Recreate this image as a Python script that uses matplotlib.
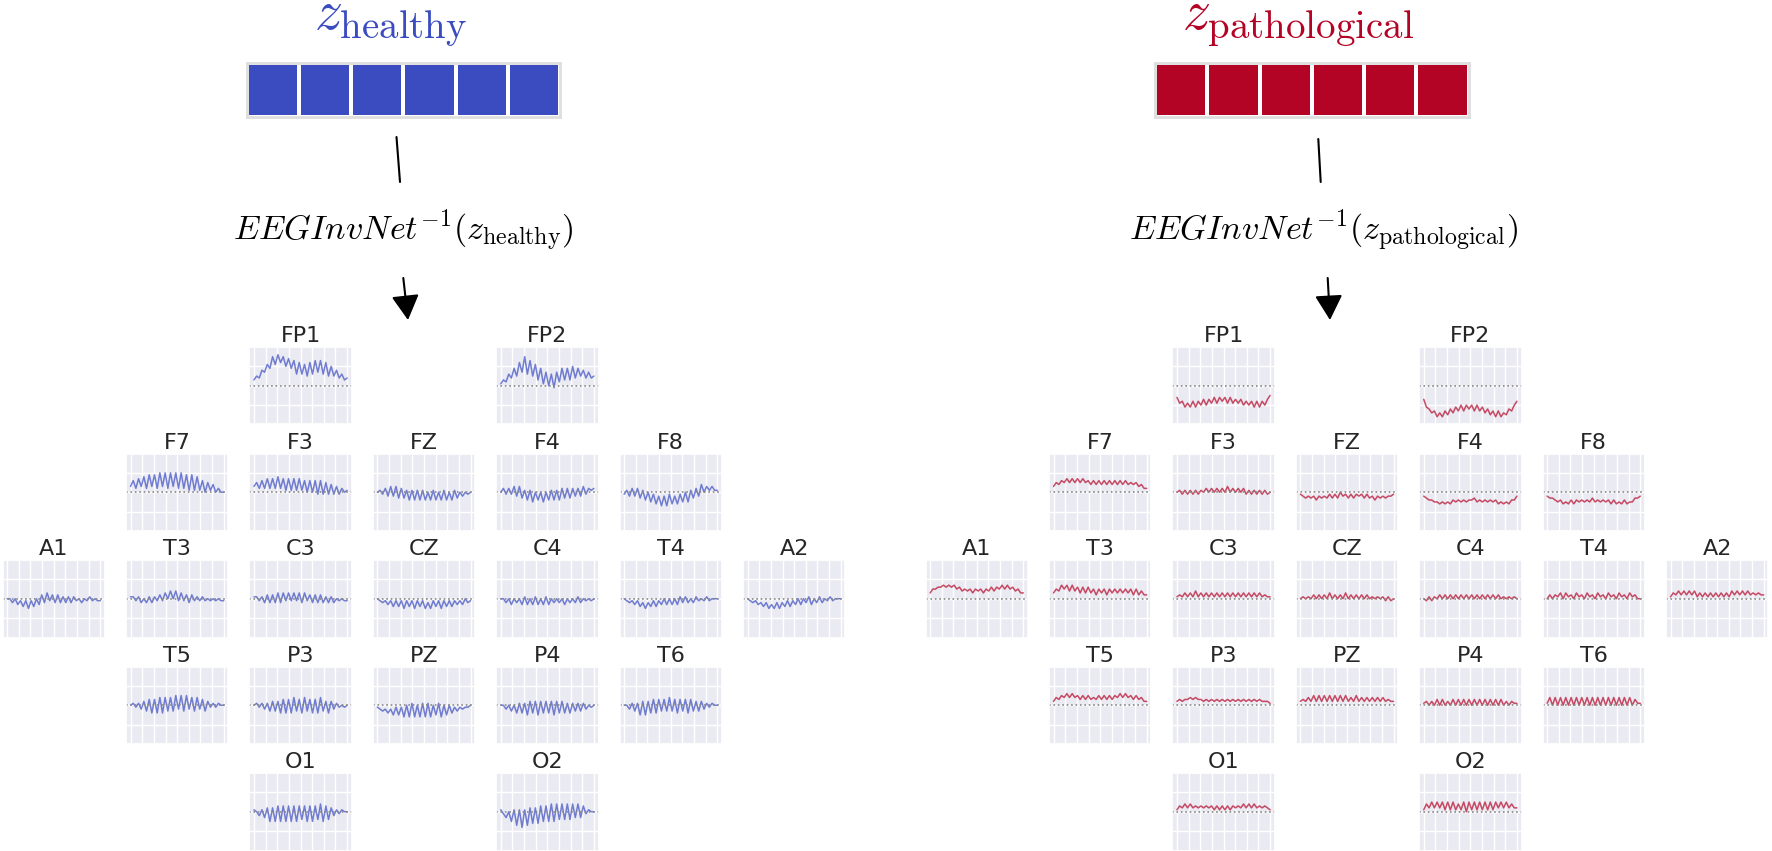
import numpy as np
import matplotlib
matplotlib.use("Agg")
import matplotlib.pyplot as plt
import seaborn as sns

sns.set_theme(style="darkgrid")
plt.rcParams['font.family'] = ['DejaVu Sans']
plt.rcParams['mathtext.fontset'] = 'cm'

# latent vectors (coolwarm values)
latent_healthy = [-1, -1, -1, -1, -1, -1]
latent_patho = [1, 1, 1, 1, 1, 1]

n_samples = 400

# healthy reconstructions, zigzag of extremes (units of 0.1)
fp1_h = [3, 5, 4, 8, 7, 11, 9, 15, 11, 16, 12, 15, 10, 14, 9, 13, 6, 12, 6, 11, 5, 12, 6, 13, 7, 13, 6, 12, 5, 10, 5, 8, 4, 6, 3, 4]
fp2_h = [1, 3, 2, 6, 4, 9, 5, 12, 7, 15, 6, 13, 5, 11, 3, 9, 1, 7, 0, 6, -1, 7, 2, 9, 3, 9, 3, 10, 4, 9, 5, 8, 4, 7, 4, 5]
f7_h = [3, 6, 2, 7, 3, 8, 2, 9, 3, 9, 2, 10, 3, 10, 2, 10, 3, 10, 2, 10, 2, 9, 1, 9, 1, 8, 1, 6, 0, 5, 1, 4, 0, 2, 0, 0]
f3_h = [3, 5, 2, 6, 2, 7, 2, 7, 2, 8, 2, 7, 1, 7, 1, 7, 1, 7, 1, 6, 0, 6, 0, 6, -1, 6, -1, 5, -1, 4, -1, 3, -1, 2, 0, 1]
fz_h = [0, 1, -1, 2, -2, 3, -2, 3, -3, 2, -3, 1, -4, 1, -4, 1, -4, 1, -4, 0, -4, 1, -4, 0, -4, 1, -4, 0, -4, 1, -3, 0, -2, 0, -1, 0]
f4_h = [0, 2, -1, 2, -1, 3, -2, 3, -3, 1, -4, 1, -5, 0, -4, 0, -5, 0, -4, 1, -4, 1, -4, 2, -3, 2, -3, 2, -2, 2, -2, 3, -1, 2, 1, 2]
f8_h = [-1, 1, -2, 2, -2, 2, -3, 1, -4, 0, -5, -1, -6, -2, -7, -2, -7, -1, -6, -2, -6, -1, -5, 0, -5, 1, -3, 2, -2, 4, 0, 3, 1, 3, 1, 1]
a1_h = [0, 0, -2, 0, -3, -1, -4, -1, -5, -1, -4, 0, -3, 2, -2, 3, -1, 2, -2, 2, -2, 1, -2, 1, -2, 1, -1, 0, -2, 0, -1, 1, -1, 0, -1, -1]
t3_h = [1, 1, -1, 1, -2, 0, -2, 1, -2, 1, -1, 2, -1, 3, 0, 4, 0, 4, -1, 3, -1, 2, -2, 2, -1, 1, -1, 1, -1, 0, -1, 0, -1, 0, -1, -1]
c3_h = [1, 1, -1, 1, -2, 2, -2, 2, -2, 3, -2, 3, -1, 3, -1, 3, -1, 3, -2, 3, -1, 2, -2, 2, -2, 2, -2, 1, -2, 1, -2, 0, -1, 0, -1, -1]
cz_h = [0, -1, -2, -1, -3, -1, -4, -1, -4, -1, -5, -1, -4, -1, -5, -1, -4, -1, -5, -2, -5, -1, -4, -1, -5, -1, -4, -1, -4, -1, -3, -1, -3, 0, -2, -1]
c4_h = [0, 0, -2, 0, -3, 0, -2, 0, -3, 1, -3, 0, -3, 1, -3, 0, -3, 1, -3, 0, -2, 0, -2, 0, -3, 0, -2, 0, -2, 1, -2, 0, -1, 0, -1, 0]
t4_h = [0, -1, -2, -1, -3, -1, -4, -2, -5, -2, -4, -1, -4, -1, -3, 0, -3, 0, -3, 0, -3, 1, -2, 1, -2, 0, -2, 1, -1, 0, -1, 1, -1, 0, 0, 0]
a2_h = [0, -1, -2, -1, -3, -2, -4, -2, -5, -3, -5, -2, -5, -2, -4, -1, -4, -1, -3, 0, -3, 0, -2, 1, -3, 0, -2, 1, -2, 0, -1, 1, -1, 0, 0, 0]
t5_h = [0, 1, -1, 1, -2, 2, -3, 3, -4, 3, -4, 4, -4, 4, -3, 4, -3, 5, -2, 5, -3, 5, -2, 4, -3, 4, -2, 3, -3, 2, -1, 1, -1, 1, 0, 0]
p3_h = [0, 1, -1, 1, -2, 1, -3, 2, -3, 2, -4, 3, -4, 3, -4, 4, -3, 3, -4, 4, -3, 3, -4, 3, -4, 4, -3, 2, -4, 2, -2, 1, -1, 0, -1, 0]
pz_h = [-1, -2, -3, -2, -4, -2, -5, -1, -5, -1, -6, 0, -6, 1, -6, 0, -6, 1, -6, 1, -6, 0, -5, 1, -6, 0, -5, 0, -4, -1, -3, -1, -2, -1, -1, 0]
p4_h = [0, 0, -2, 0, -3, 0, -4, 1, -4, 1, -5, 2, -4, 2, -5, 2, -4, 2, -4, 2, -5, 2, -4, 2, -4, 1, -4, 1, -3, 1, -3, 1, -2, 0, -1, 0]
t6_h = [0, 0, -2, 1, -3, 1, -5, 2, -5, 2, -4, 3, -4, 3, -3, 3, -3, 4, -3, 3, -4, 3, -3, 3, -4, 3, -3, 2, -3, 2, -2, 1, -1, 1, 0, 0]
o1_h = [1, 0, -2, 1, -3, 2, -5, 2, -5, 3, -5, 3, -5, 3, -5, 3, -5, 3, -4, 3, -5, 3, -5, 3, -4, 4, -5, 3, -4, 2, -2, 1, -1, 1, 0, 0]
o2_h = [1, -1, -3, 0, -5, 1, -7, 1, -8, 1, -7, 2, -6, 2, -6, 3, -5, 3, -5, 4, -5, 4, -4, 4, -4, 4, -4, 4, -3, 4, -3, 3, -1, 1, 0, 0]

# pathological reconstructions
fp1_p = [-6, -9, -8, -11, -9, -11, -8, -11, -8, -10, -7, -10, -7, -9, -6, -9, -6, -8, -6, -9, -6, -9, -7, -9, -7, -10, -8, -10, -8, -11, -8, -11, -8, -10, -7, -5]
fp2_p = [-7, -11, -12, -14, -13, -16, -14, -16, -13, -15, -12, -14, -11, -13, -10, -13, -10, -12, -10, -13, -10, -13, -11, -14, -12, -15, -13, -16, -13, -16, -14, -15, -12, -13, -10, -8]
f7_p = [3, 5, 4, 6, 5, 7, 5, 7, 5, 7, 5, 7, 5, 6, 4, 6, 4, 6, 4, 6, 4, 6, 4, 6, 4, 6, 4, 6, 4, 5, 4, 5, 3, 4, 2, 2]
f3_p = [0, 1, -1, 1, -1, 1, -1, 1, -1, 1, 0, 2, 0, 2, 0, 2, 0, 2, 0, 3, 0, 2, 0, 2, 0, 2, -1, 1, -1, 1, -1, 1, -1, 1, -1, 0]
fz_p = [-1, -2, -3, -2, -3, -2, -4, -2, -3, -2, -3, -1, -3, -1, -3, 0, -2, -1, -3, -1, -3, -1, -2, -1, -3, -1, -3, -2, -4, -2, -3, -2, -3, -2, -2, -1]
f4_p = [-2, -3, -4, -4, -5, -5, -6, -5, -6, -5, -6, -4, -5, -4, -5, -4, -5, -4, -4, -3, -5, -4, -5, -4, -5, -4, -5, -4, -6, -5, -6, -5, -6, -4, -4, -2]
f8_p = [-2, -3, -3, -4, -5, -4, -6, -5, -6, -4, -6, -4, -5, -4, -5, -4, -5, -3, -5, -4, -5, -4, -5, -4, -6, -4, -6, -5, -6, -4, -6, -5, -5, -3, -3, -2]
a1_p = [3, 5, 5, 6, 6, 7, 6, 7, 6, 7, 5, 6, 4, 5, 4, 5, 3, 5, 4, 5, 3, 5, 4, 6, 4, 6, 5, 7, 5, 7, 5, 6, 4, 5, 3, 3]
t3_p = [3, 5, 4, 7, 5, 7, 4, 7, 4, 6, 3, 6, 3, 6, 3, 5, 2, 5, 3, 5, 2, 5, 3, 5, 3, 5, 3, 5, 3, 5, 2, 5, 2, 4, 2, 2]
c3_p = [1, 2, 1, 3, 1, 3, 1, 4, 1, 3, 1, 3, 1, 3, 1, 3, 1, 3, 1, 3, 1, 3, 1, 3, 1, 3, 1, 3, 1, 3, 1, 3, 1, 2, 1, 1]
cz_p = [0, 1, 0, 1, 0, 2, 0, 2, 0, 2, 0, 3, 0, 2, 0, 2, 0, 3, 0, 2, 0, 2, 0, 2, 0, 2, 0, 1, 0, 1, 0, 1, -1, 1, -1, 0]
c4_p = [0, -1, 1, -1, 1, 0, 2, 0, 2, 0, 2, 0, 2, 0, 2, 0, 2, 0, 2, 0, 2, 0, 2, 0, 2, 0, 2, 0, 2, 0, 1, 0, 1, 0, 1, 0]
t4_p = [0, 2, 0, 2, 1, 3, 0, 3, 1, 2, 0, 3, 1, 2, 0, 3, 1, 2, 0, 3, 1, 2, 0, 3, 1, 2, 0, 3, 1, 2, 0, 3, 1, 2, 0, 0]
a2_p = [1, 3, 2, 4, 2, 4, 2, 4, 2, 4, 1, 3, 1, 3, 1, 3, 1, 3, 1, 3, 1, 3, 1, 4, 2, 4, 2, 4, 2, 4, 2, 3, 2, 3, 2, 2]
t5_p = [2, 4, 3, 5, 4, 6, 4, 6, 4, 5, 3, 5, 3, 5, 3, 4, 3, 5, 3, 5, 3, 5, 3, 5, 4, 6, 4, 6, 4, 5, 3, 5, 3, 4, 2, 2]
p3_p = [2, 3, 2, 3, 3, 4, 3, 4, 3, 3, 2, 3, 2, 3, 2, 3, 2, 3, 2, 3, 2, 3, 2, 3, 2, 3, 2, 3, 2, 3, 2, 3, 2, 2, 2, 1]
pz_p = [2, 3, 2, 4, 2, 5, 2, 5, 2, 5, 2, 5, 2, 5, 2, 5, 2, 5, 2, 4, 2, 5, 2, 4, 2, 4, 2, 4, 2, 4, 2, 4, 2, 3, 2, 2]
p4_p = [1, 2, 0, 2, 0, 3, 0, 3, 0, 2, 0, 3, 0, 3, 0, 3, 0, 3, 0, 3, 0, 3, 0, 3, 0, 3, 0, 3, 0, 3, 0, 2, 0, 2, 1, 1]
t6_p = [1, 4, 0, 4, 0, 4, 0, 4, 0, 4, 0, 4, 0, 4, 0, 4, 0, 4, 0, 4, 0, 4, 0, 4, 0, 4, 0, 4, 0, 4, 0, 4, 0, 3, 1, 1]
o1_p = [1, 3, 2, 4, 2, 4, 2, 3, 2, 3, 2, 3, 2, 3, 1, 3, 1, 3, 1, 3, 1, 3, 2, 3, 2, 4, 2, 4, 2, 4, 2, 3, 2, 3, 2, 1]
o2_p = [1, 4, 2, 5, 2, 5, 2, 5, 1, 5, 1, 5, 1, 4, 1, 5, 0, 5, 1, 5, 1, 5, 1, 5, 1, 5, 1, 5, 2, 5, 2, 5, 2, 4, 2, 2]

healthy = {"FP1": fp1_h, "FP2": fp2_h, "F7": f7_h, "F3": f3_h, "FZ": fz_h, "F4": f4_h, "F8": f8_h,
           "A1": a1_h, "T3": t3_h, "C3": c3_h, "CZ": cz_h, "C4": c4_h, "T4": t4_h, "A2": a2_h,
           "T5": t5_h, "P3": p3_h, "PZ": pz_h, "P4": p4_h, "T6": t6_h, "O1": o1_h, "O2": o2_h}
patho = {"FP1": fp1_p, "FP2": fp2_p, "F7": f7_p, "F3": f3_p, "FZ": fz_p, "F4": f4_p, "F8": f8_p,
         "A1": a1_p, "T3": t3_p, "C3": c3_p, "CZ": cz_p, "C4": c4_p, "T4": t4_p, "A2": a2_p,
         "T5": t5_p, "P3": p3_p, "PZ": pz_p, "P4": p4_p, "T6": t6_p, "O1": o1_p, "O2": o2_p}

# scalp layout (row, col)
layout = {"FP1": (0, 2), "FP2": (0, 4),
          "F7": (1, 1), "F3": (1, 2), "FZ": (1, 3), "F4": (1, 4), "F8": (1, 5),
          "A1": (2, 0), "T3": (2, 1), "C3": (2, 2), "CZ": (2, 3), "C4": (2, 4), "T4": (2, 5), "A2": (2, 6),
          "T5": (3, 1), "P3": (3, 2), "PZ": (3, 3), "P4": (3, 4), "T6": (3, 5),
          "O1": (4, 2), "O2": (4, 4)}

W, H = 1772, 851
fig = plt.figure(figsize=(W / 100, H / 100), dpi=100)

def px_axes(x0, y0, w, h):
    return fig.add_axes([x0 / W, 1 - (y0 + h) / H, w / W, h / H])

blue = plt.cm.coolwarm(0.0)
red = plt.cm.coolwarm(1.0)

# overlay for text and arrows, in pixel coords
ov = fig.add_axes([0, 0, 1, 1])
ov.set_xlim(0, W)
ov.set_ylim(H, 0)
ov.axis("off")

def draw_side(x_col0, data, color, title, label, lat, lat_x, title_x, line_pts, text_x, arrow_pts):
    ov.text(title_x, 30, title, color=color, fontsize=40, ha="center", va="baseline")
    ov.text(text_x, 240, label, color="black", fontsize=24.5, ha="center", va="baseline")
    ov.plot(line_pts[0], line_pts[1], color="black", lw=1.5)
    ov.annotate("", xy=arrow_pts[1], xytext=arrow_pts[0],
                arrowprops=dict(arrowstyle="-|>,head_length=0.9,head_width=0.5", color="black",
                                lw=1.5, mutation_scale=17, shrinkA=0, shrinkB=0))
    axl = px_axes(lat_x, 62.5, 313.5, 54)
    axl.pcolormesh(np.array([lat]), cmap="coolwarm", vmin=-1, vmax=1, edgecolors="white", linewidth=1.5)
    axl.set_xticks([])
    axl.set_yticks([])
    for s in axl.spines.values():
        s.set_visible(True)
        s.set_color("#dedede")
        s.set_linewidth(2)
    for name, (r, c) in layout.items():
        ax = px_axes(x_col0 + c * 123.4, 347 + r * 106.5, 102.5, 77.5)
        vals = np.array(data[name]) / 10.0
        xs = np.linspace(0, n_samples, len(vals))
        ax.plot(xs, vals, color=color, lw=1.1, alpha=0.7)
        ax.axhline(0, color="#888888", ls=":", lw=1.2)
        ax.set_ylim(-2, 2)
        ax.set_xticks(np.arange(0, n_samples + 1, 50))
        ax.set_yticks([-1, 0, 1])
        ax.set_xticklabels([])
        ax.set_yticklabels([])
        ax.tick_params(length=0)
        ax.set_title(name, fontsize=16, pad=3.5, color="#262626")

draw_side(2.5, healthy, blue, r"$z_{\mathrm{healthy}}$", r"$EEGInvNet^{-1}(z_{\mathrm{healthy}})$",
          latent_healthy, 246.5, 391, ([396.5, 400], [137, 182]), 403, ((403.3, 278), (408, 320)))
draw_side(925.5, patho, red, r"$z_{\mathrm{pathological}}$", r"$EEGInvNet^{-1}(z_{\mathrm{pathological}})$",
          latent_patho, 1155, 1298, ([1318.3, 1320.7], [139, 182]), 1324, ((1327.7, 278), (1330, 320)))

fig.savefig("out.png", dpi=100)
